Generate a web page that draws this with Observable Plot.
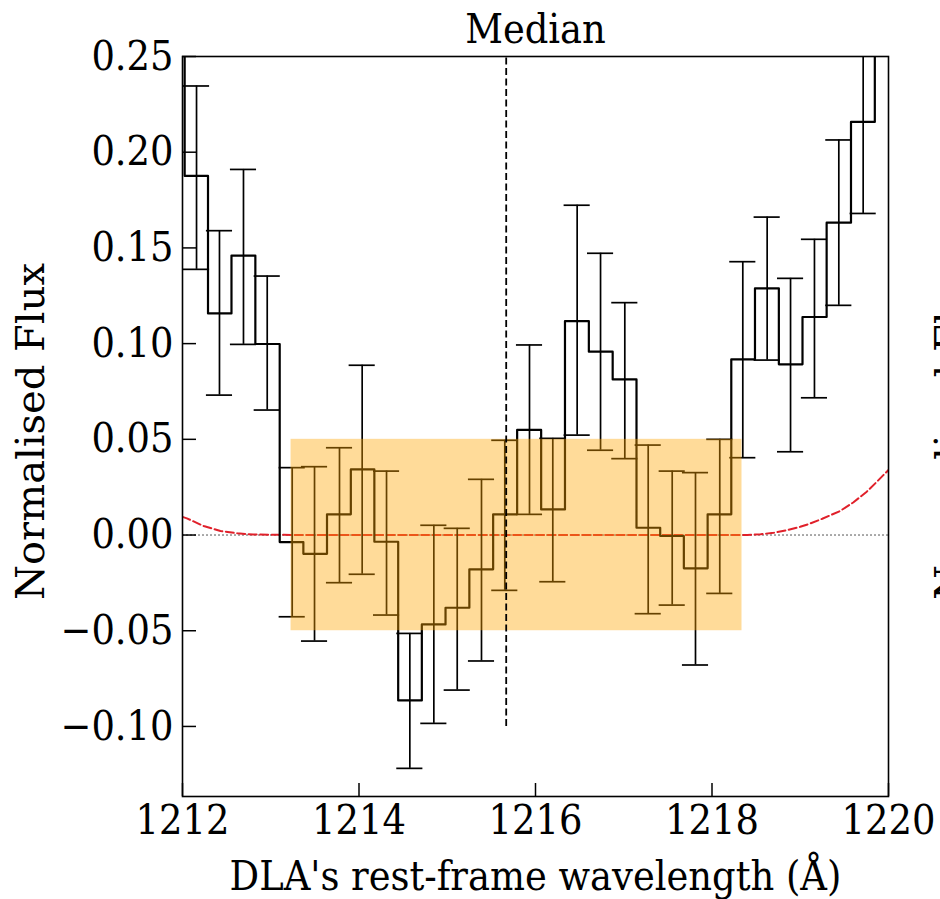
<!DOCTYPE html>
<html>
<head>
<meta charset="utf-8">
<script src="https://cdn.jsdelivr.net/npm/d3@7"></script>
<script src="https://cdn.jsdelivr.net/npm/@observablehq/plot@0.6"></script>
<style>
  html, body { margin: 0; padding: 0; background: white; overflow: hidden; }
  #chart { width: 940px; height: 899px; }
</style>
</head>
<body>
<div id="chart"></div>
<script>
// ---- data ----
const wave = [1211.89, 1212.159, 1212.419, 1212.691, 1212.960, 1213.243, 1213.496, 1213.779, 1214.036, 1214.312,
  1214.576, 1214.848, 1215.113, 1215.388, 1215.652, 1215.932, 1216.196, 1216.472, 1216.737, 1217.012,
  1217.277, 1217.549, 1217.813, 1218.088, 1218.349, 1218.625, 1218.890, 1219.161, 1219.437, 1219.713, 1219.977];
const flux = [0.27, 0.1876, 0.1158, 0.146, 0.0998, -0.0037, -0.0098, 0.0108, 0.0343, -0.0035,
  -0.0864, -0.0467, -0.038, -0.0179, 0.0108, 0.0549, 0.0134, 0.1118, 0.0958, 0.0813,
  0.0038, -0.0005, -0.0174, 0.0108, 0.0918, 0.1289, 0.0892, 0.1139, 0.1632, 0.2158, 0.32];
const fluxLo = [null, 0.1388, 0.0731, 0.0996, 0.0653, -0.0427, -0.0554, -0.0249, -0.0205, -0.0418,
  -0.1219, -0.0984, -0.081, -0.0658, -0.0289, 0.0108, -0.0244, 0.0522, 0.0443, 0.0399,
  -0.0411, -0.0366, -0.0679, -0.0305, 0.0404, 0.0914, 0.0435, 0.0717, 0.12, 0.168, 0.26];
const fluxHi = [null, 0.2346, 0.159, 0.191, 0.1353, 0.0352, 0.0357, 0.0456, 0.0887, 0.0334,
  -0.0514, 0.0051, 0.0035, 0.0291, 0.0495, 0.0993, 0.0505, 0.1723, 0.1472, 0.1214,
  0.047, 0.0334, 0.0326, 0.05, 0.1428, 0.1661, 0.1341, 0.1545, 0.2064, 0.27, 0.38];

const modelWave = [1212.0, 1212.05, 1212.24, 1212.43, 1212.62, 1212.8, 1213.0, 1214.0, 1215.0, 1216.0, 1217.0, 1218.0,
  1218.4, 1218.55, 1218.7, 1218.85, 1219.0, 1219.1, 1219.25, 1219.45, 1219.6, 1219.75, 1219.85, 1220.0];
const modelFlux = [0.0095, 0.0087, 0.0047, 0.0021, 0.0009, 0.0003, 0.0001, 0, 0, 0, 0, 0,
  0, 0.0004, 0.0012, 0.0025, 0.0043, 0.0058, 0.0085, 0.0125, 0.017, 0.0225, 0.027, 0.034];

const medianWave = 1215.668;
const medianRange = [-0.10, 0.25];
const bandWave = [1213.23, 1218.34];
const bandFlux = [-0.05, 0.05];

const xTicks = [1212, 1214, 1216, 1218, 1220];
const yTicks = [-0.10, -0.05, 0.00, 0.05, 0.10, 0.15, 0.20, 0.25];
const xDomain = [1212, 1220];
const yDomain = [-0.1366, 0.25];

const title = "Median";
const xLabel = "DLA's rest-frame wavelength (Å)";
const yLabel = "Normalised Flux";

// ---- build tables ----
const spec = wave.map((x, i) => ({x, y: flux[i], lo: fluxLo[i], hi: fluxHi[i]}));
const errs = spec.filter(d => d.lo != null);
const model = modelWave.map((x, i) => ({x, y: modelFlux[i]}));
const capHalf = 0.148;

const hFont = "'DejaVu Serif Condensed', 'DejaVu Serif', serif";
const vFont = "'DejaVu Serif', serif";

const chart = Plot.plot({
  width: 940,
  height: 899,
  marginLeft: 182,
  marginRight: 52,
  marginTop: 56,
  marginBottom: 103,
  style: {fontFamily: hFont, fontSize: "41px", background: "white", color: "black"},
  x: {domain: xDomain, label: null},
  y: {domain: yDomain, label: null},
  marks: [
    Plot.ruleY([0], {stroke: "#555", strokeDasharray: "2,2", strokeWidth: 1}),
    Plot.line(model, {x: "x", y: "y", stroke: "#e0202a", strokeWidth: 2, strokeDasharray: "8,3.5", clip: true}),
    Plot.line(spec, {x: "x", y: "y", curve: "step", stroke: "black", strokeWidth: 2.2, clip: true}),
    Plot.ruleX(errs, {x: "x", y1: "lo", y2: "hi", stroke: "black", strokeWidth: 1.7, clip: true}),
    Plot.ruleY(errs, {y: "lo", x1: d => d.x - capHalf, x2: d => d.x + capHalf, stroke: "black", strokeWidth: 1.7, clip: true}),
    Plot.ruleY(errs, {y: "hi", x1: d => d.x - capHalf, x2: d => d.x + capHalf, stroke: "black", strokeWidth: 1.7, clip: true}),
    Plot.rect([{x1: bandWave[0], x2: bandWave[1], y1: bandFlux[0], y2: bandFlux[1]}],
      {x1: "x1", x2: "x2", y1: "y1", y2: "y2", fill: "orange", fillOpacity: 0.4}),
    Plot.ruleX([medianWave], {y1: medianRange[0], y2: medianRange[1], stroke: "black", strokeWidth: 1.8, strokeDasharray: "7,3.5"}),
    Plot.frame({stroke: "black", strokeWidth: 1.6}),
    // inward ticks
    Plot.axisX(xTicks, {anchor: "bottom", tickSize: 13, dy: -13, tickFormat: () => "", strokeWidth: 1.5, label: null}),
    Plot.axisY(yTicks, {anchor: "left", tickSize: 14, dx: 14, tickFormat: () => "", strokeWidth: 1.5, label: null}),
    // tick labels
    Plot.axisX(xTicks, {anchor: "bottom", tickSize: 0, tickPadding: 8, tickFormat: d => String(d), label: null, fill: "black"}),
    Plot.axisY(yTicks, {anchor: "left", tickSize: 0, tickPadding: 9, tickFormat: d3.format(".2f"), label: null, fill: "black"}),
    // titles
    Plot.text([title], {frameAnchor: "top", textAnchor: "middle", lineAnchor: "top", dy: -43, fill: "black", fontFamily: hFont, fontSize: 41}),
    Plot.text([xLabel], {frameAnchor: "bottom", textAnchor: "middle", lineAnchor: "top", dy: 64, fill: "black", fontFamily: hFont, fontSize: 41}),
    Plot.text([yLabel], {frameAnchor: "left", textAnchor: "middle", lineAnchor: "top", rotate: -90, dx: -167, dy: 5, fill: "black", fontFamily: vFont, fontSize: 40}),
    Plot.text([yLabel], {frameAnchor: "right", textAnchor: "middle", lineAnchor: "top", rotate: -90, dx: 46, dy: 5, fill: "black", fontFamily: vFont, fontSize: 40})
  ]
});
document.getElementById("chart").appendChild(chart);
</script>
</body>
</html>
